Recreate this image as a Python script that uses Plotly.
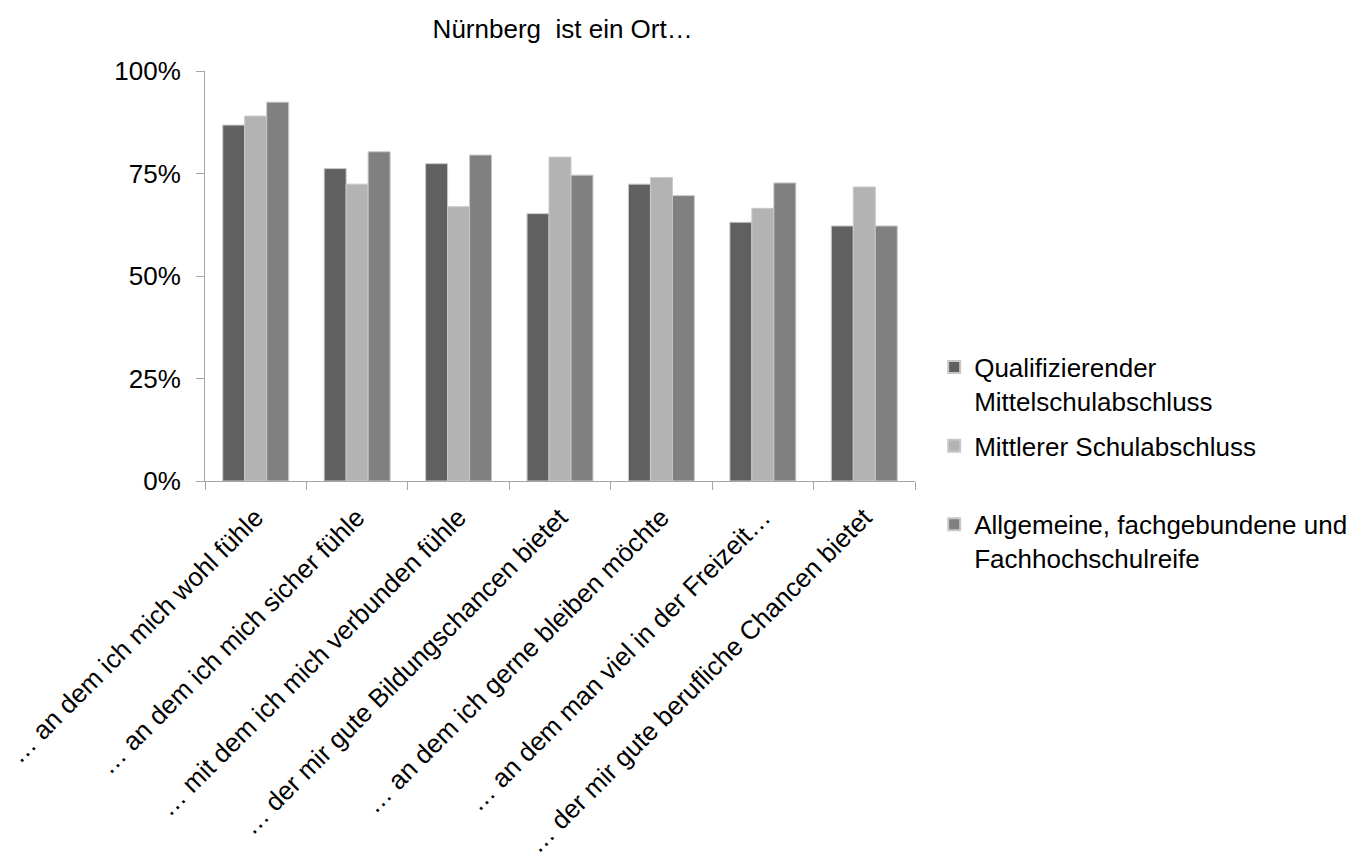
import plotly.graph_objects as go

categories = [
    "… an dem ich mich wohl fühle",
    "… an dem ich mich sicher fühle",
    "… mit dem ich mich verbunden fühle",
    "… der mir gute Bildungschancen bietet",
    "… an dem ich gerne bleiben möchte",
    "… an dem man viel in der Freizeit…",
    "… der mir gute berufliche Chancen bietet",
]
series_names = [
    "Qualifizierender<br>Mittelschulabschluss",
    "Mittlerer Schulabschluss<br> ",
    "Allgemeine, fachgebundene und<br>Fachhochschulreife",
]
quali = [0.868, 0.762, 0.774, 0.652, 0.724, 0.631, 0.622]
mittlerer = [0.890, 0.724, 0.669, 0.790, 0.740, 0.665, 0.717]
allgemein = [0.924, 0.803, 0.795, 0.746, 0.696, 0.727, 0.622]
colors = ["#606060", "#b3b3b3", "#808080"]

fig = go.Figure()
for i, (name, vals, col) in enumerate(zip(series_names, [quali, mittlerer, allgemein], colors)):
    fig.add_trace(go.Bar(
        x=categories, y=vals, name=name, legendgroup=f"g{i}",
        marker=dict(color=col, line=dict(color="#c8c8c8", width=1)),
    ))

font_family = "Liberation Sans, Arial, sans-serif"
fig.update_layout(
    width=1369, height=864,
    margin=dict(l=205, r=454, t=71, b=383, autoexpand=False),
    paper_bgcolor="white", plot_bgcolor="white",
    font=dict(family=font_family, size=26, color="#000000"),
    barmode="group", bargap=0.35, bargroupgap=0,
    title=dict(text="Nürnberg  ist ein Ort…", x=0.411, xanchor="center",
               y=0.966, yanchor="middle", font=dict(size=26, color="#000000")),
    showlegend=True,
    legend=dict(x=1.027, xanchor="left", y=0.335, yanchor="top",
                valign="top", font=dict(size=26, color="#000000"),
                tracegroupgap=8, itemsizing="constant"),
    xaxis=dict(
        tickangle=-45, showline=True, linecolor="#a6a6a6", linewidth=1,
        ticks="outside", ticklen=8, tickcolor="#a6a6a6", tickson="boundaries",
        showgrid=False, automargin=False, tickfont=dict(size=26),
        ticklabelstandoff=10,
    ),
    yaxis=dict(
        range=[0, 1], dtick=0.25, tickformat=".0%", showline=True,
        linecolor="#a6a6a6", linewidth=1, ticks="outside", ticklen=8,
        tickcolor="#a6a6a6", showgrid=False, zeroline=False, automargin=False,
        tickfont=dict(size=26), ticklabelstandoff=10,
    ),
)

fig.write_html("out.html")
